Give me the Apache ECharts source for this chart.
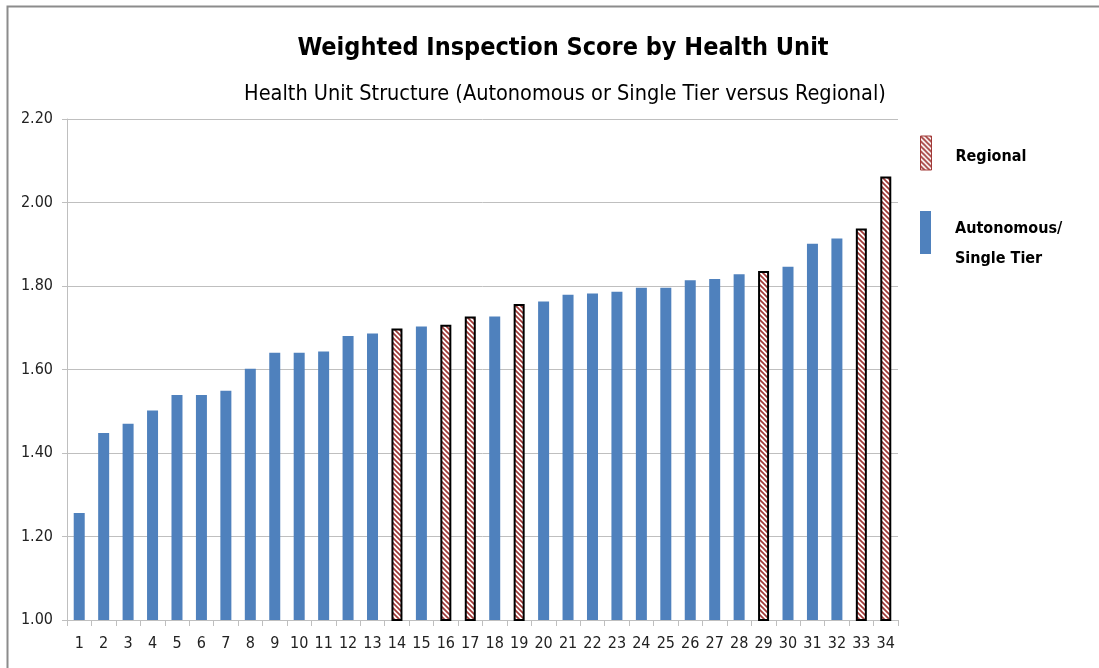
<!DOCTYPE html>
<html>
<head>
<meta charset="utf-8">
<title>Weighted Inspection Score by Health Unit</title>
<style>
  html, body { margin: 0; padding: 0; background: #fff; }
  #container { width: 1099px; height: 668px; }
</style>
</head>
<body>
<div id="container"></div>
<script src="https://cdn.jsdelivr.net/npm/echarts@6/dist/echarts.min.js"></script>
<script>
var units = ['1','2','3','4','5','6','7','8','9','10','11','12','13','14','15','16','17',
             '18','19','20','21','22','23','24','25','26','27','28','29','30','31','32','33','34'];
var scores = [1.256, 1.448, 1.470, 1.502, 1.539, 1.539, 1.549, 1.602, 1.640, 1.640, 1.643,
              1.680, 1.686, 1.698, 1.703, 1.707, 1.727, 1.727, 1.757, 1.763, 1.779, 1.782,
              1.786, 1.796, 1.796, 1.814, 1.817, 1.828, 1.836, 1.846, 1.901, 1.914, 1.938, 2.062];
var structure = ['A','A','A','A','A','A','A','A','A','A','A','A','A','R','A','R','R',
                 'A','R','A','A','A','A','A','A','A','A','A','R','A','A','A','R','R'];
var yTicks = [1.0, 1.2, 1.4, 1.6, 1.8, 2.0, 2.2];

var font = '"Liberation Sans Narrow", "DejaVu Sans Condensed", sans-serif';

// hatch pattern for regional bars
function hatch() {
    var s = 5;
    var c = document.createElement('canvas');
    c.width = s; c.height = s;
    var ctx = c.getContext('2d');
    ctx.fillStyle = '#fff';
    ctx.fillRect(0, 0, s, s);
    ctx.strokeStyle = '#a23a38';
    ctx.lineWidth = 1.7;
    ctx.beginPath();
    ctx.moveTo(-s, -s); ctx.lineTo(2 * s, 2 * s);
    ctx.moveTo(-s, 0); ctx.lineTo(s, 2 * s);
    ctx.moveTo(0, -s); ctx.lineTo(2 * s, s);
    ctx.stroke();
    return c;
}
var hatchFill = { image: hatch(), repeat: 'repeat' };

var regional = scores.map(function (v, i) { return structure[i] === 'R' ? v : null; });
var autonomous = scores.map(function (v, i) { return structure[i] === 'A' ? v : null; });

// legend text: a spacer line on top pushes the label below the swatch centre
function legendText(spacer) {
    return {
        padding: [0, 0, 0, 19],
        rich: {
            s: { fontSize: 1, lineHeight: spacer, height: spacer },
            t: { fontFamily: font, fontSize: 16, fontWeight: 'bold', color: '#000', lineHeight: 30 }
        }
    };
}
function legendLabel(name) {
    return '{s| }\n' + name.split('\n').map(function (l) { return '{t|' + l + '}'; }).join('\n');
}

var myChart = echarts.init(document.getElementById('container'));
var option = {
    animation: false,
    backgroundColor: '#fff',
    title: [{
        text: 'Weighted Inspection Score by Health Unit',
        left: 558, top: 31, textAlign: 'center',
        textStyle: { fontFamily: font, fontSize: 25, fontWeight: 'bold', color: '#000' }
    }, {
        text: 'Health Unit Structure (Autonomous or Single Tier versus Regional)',
        left: 560, top: 78, textAlign: 'center',
        textStyle: { fontFamily: font, fontSize: 21.5, fontWeight: 'normal', color: '#000' }
    }],
    legend: [{
        left: 915, top: 129,
        itemWidth: 11, itemHeight: 34,
        icon: 'rect',
        data: ['Regional'],
        formatter: legendLabel,
        itemStyle: { borderColor: '#a23a38', borderWidth: 1 },
        textStyle: legendText(8)
    }, {
        left: 915, top: 186.5,
        itemWidth: 11, itemHeight: 43,
        icon: 'rect',
        data: ['Autonomous/\nSingle Tier'],
        formatter: legendLabel,
        textStyle: legendText(22)
    }],
    grid: { left: 67, right: 201, top: 119, bottom: 48 },
    xAxis: {
        type: 'category',
        data: units,
        axisLine: { lineStyle: { color: '#bfbfbf', width: 1 } },
        axisTick: { show: true, interval: 0, length: 6, lineStyle: { color: '#bfbfbf' } },
        axisLabel: { interval: 0, margin: 16, fontFamily: font, fontSize: 16, color: '#222' }
    },
    yAxis: {
        type: 'value',
        min: yTicks[0], max: yTicks[yTicks.length - 1], interval: 0.2,
        axisLine: { show: true, lineStyle: { color: '#bfbfbf', width: 1 } },
        axisTick: { show: true, length: 5, lineStyle: { color: '#bfbfbf' } },
        splitLine: { lineStyle: { color: '#bfbfbf', width: 1 } },
        axisLabel: { margin: 14, fontFamily: font, fontSize: 16, color: '#222',
                     formatter: function (v) { return v.toFixed(2); } }
    },
    series: [{
        name: 'Regional',
        type: 'bar',
        data: regional,
        barWidth: 11,
        barGap: '-100%',
        itemStyle: { color: hatchFill, borderColor: '#000', borderWidth: 2 }
    }, {
        name: 'Autonomous/\nSingle Tier',
        type: 'bar',
        data: autonomous,
        barWidth: 11,
        itemStyle: { color: '#4f81bd' }
    }],
    graphic: [{
        type: 'polyline',
        shape: { points: [[7.5, 668], [7.5, 6.5], [1099, 6.5]] },
        style: { stroke: '#8c8c8c', lineWidth: 2, fill: null }
    }]
};
myChart.setOption(option);
</script>
</body>
</html>
